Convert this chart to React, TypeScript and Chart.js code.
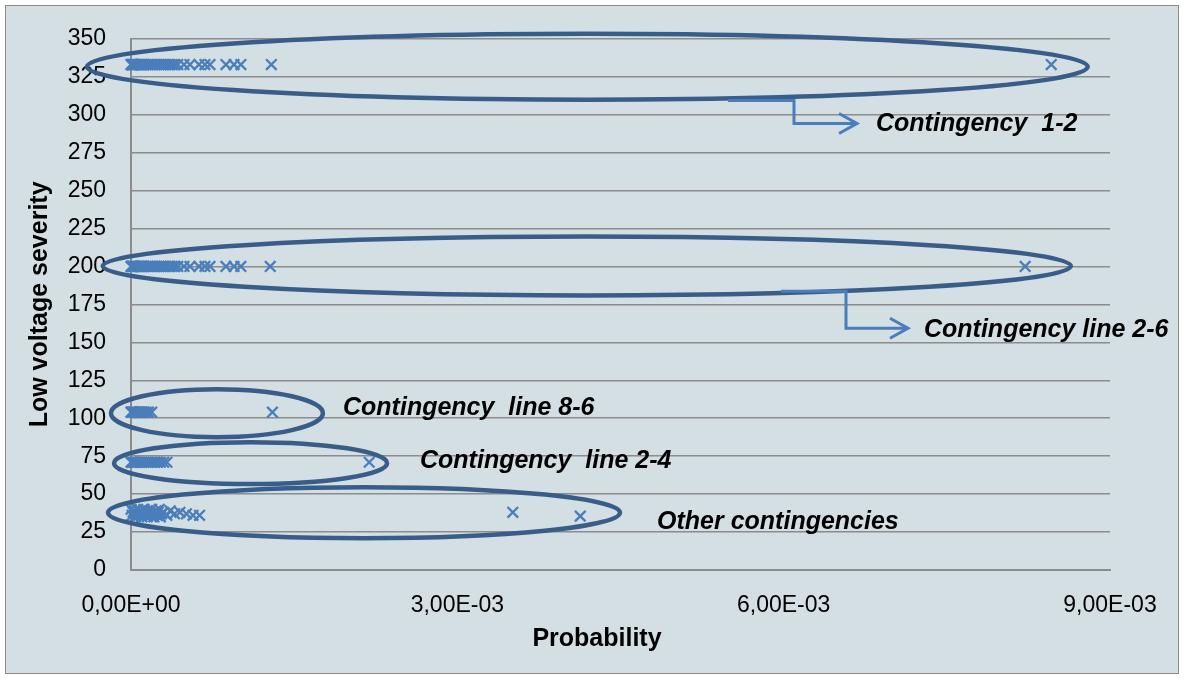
import React, { useEffect, useRef } from "react";
import { Chart, registerables } from "chart.js";

Chart.register(...registerables);

// ---- Data ----
const probLine12 = [
  0, 0.000005, 0.00001, 0.000015, 0.00002, 0.00003, 0.00004, 0.00005, 0.00006, 0.00007,
  0.00008, 0.00009, 0.0001, 0.00011, 0.00012, 0.00014, 0.00016, 0.00018, 0.0002, 0.00022,
  0.00024, 0.00026, 0.00028, 0.0003, 0.00032, 0.00034, 0.00036, 0.00038, 0.0004, 0.00043,
  0.000487, 0.000542, 0.000625, 0.00068, 0.000726, 0.000873, 0.000947, 0.00101, 0.00129, 0.00846,
];
const severityLine12 = 333;

const probLine26 = [
  0, 0.000005, 0.00001, 0.000015, 0.00002, 0.00003, 0.00004, 0.00005, 0.00006, 0.00007,
  0.00008, 0.00009, 0.0001, 0.00011, 0.00012, 0.00014, 0.00016, 0.00018, 0.0002, 0.00022,
  0.00024, 0.00026, 0.00028, 0.0003, 0.00032, 0.00034, 0.00036, 0.00038, 0.0004, 0.00043,
  0.000487, 0.000542, 0.000625, 0.00068, 0.000726, 0.000873, 0.000947, 0.00101, 0.00128, 0.00822,
];
const severityLine26 = 200;

const probLine86 = [
  0, 0.000005, 0.00001, 0.00002, 0.00003, 0.00004, 0.00005, 0.00006, 0.00007, 0.00008,
  0.00009, 0.0001, 0.00012, 0.00014, 0.00016, 0.00019, 0.0013,
];
const severityLine86 = 104;

const probLine24 = [
  0, 0.000005, 0.00001, 0.00002, 0.00003, 0.00004, 0.00005, 0.00006, 0.00008, 0.0001,
  0.00012, 0.00014, 0.00016, 0.00018, 0.0002, 0.00022, 0.00024, 0.00027, 0.0003, 0.00033,
  0.00219,
];
const severityLine24 = 71;

const probOther = [
  0, 0.00001, 0.00002, 0.00003, 0.00004, 0.00005, 0.00006, 0.00007, 0.00008, 0.00009,
  0.0001, 0.00011, 0.00012, 0.00013, 0.00014, 0.00015, 0.00016, 0.00017, 0.00018, 0.00019,
  0.0002, 0.00021, 0.00022, 0.00023, 0.00024, 0.00025, 0.00026, 0.00027, 0.00028, 0.0003,
  0.00033, 0.00036, 0.0004, 0.00045, 0.00051, 0.00057, 0.00063, 0.00351, 0.00413,
];
const severityOther = [
  40, 36, 38, 39, 35, 37, 40, 36, 38, 39,
  35, 37, 40, 36, 38, 35, 39, 37, 36, 40,
  38, 35, 37, 39, 36, 38, 40, 35, 37, 38,
  36, 39, 37, 38, 37, 36, 36, 38, 35.5,
];

const yTickValues = [0, 25, 50, 75, 100, 125, 150, 175, 200, 225, 250, 275, 300, 325, 350];
const xTickValues = [0, 0.003, 0.006, 0.009];

// ---- Annotations (data-space) ----
const ellipses = [
  { cx: 0.004195, cy: 331.6, rx: 0.0046, ry: 21.7 },
  { cx: 0.00419, cy: 200.3, rx: 0.00445, ry: 19.4 },
  { cx: 0.00079, cy: 103.3, rx: 0.000974, ry: 15.8 },
  { cx: 0.001099, cy: 70.4, rx: 0.001255, ry: 13.8 },
  { cx: 0.002142, cy: 37.8, rx: 0.002353, ry: 16.8 },
];
const arrows = [
  { pts: [[0.005488, 309.3], [0.006095, 309.3], [0.006095, 294.2], [0.006674, 294.2]] },
  { pts: [[0.005975, 183.6], [0.006573, 183.6], [0.006573, 159.3], [0.007143, 159.3]] },
];
const labels = [
  { text: "Contingency  1-2", x: 0.006849, y: 293.5 },
  { text: "Contingency line 2-6", x: 0.00729, y: 158.0 },
  { text: "Contingency  line 8-6", x: 0.001949, y: 106.6 },
  { text: "Contingency  line 2-4", x: 0.002657, y: 71.7 },
  { text: "Other contingencies", x: 0.004836, y: 31.6 },
];

const FONT = "'Liberation Sans', Arial, sans-serif";
const MARKER = "#4a7ebb";

function sci(v: number): string {
  if (Math.abs(v) < 1e-12) return "0,00E+00";
  const e = Math.floor(Math.log10(Math.abs(v)) + 1e-9);
  const m = v / Math.pow(10, e);
  return m.toFixed(2).replace(".", ",") + "E" + (e < 0 ? "-" : "+") + String(Math.abs(e)).padStart(2, "0");
}

const zip = (xs: number[], ys: number[] | number) =>
  xs.map((x, i) => ({ x, y: Array.isArray(ys) ? ys[i] : ys }));

const framePlugin = {
  id: "frame",
  beforeDraw(chart: any) {
    const { ctx, width, height } = chart;
    ctx.save();
    ctx.fillStyle = "#ffffff";
    ctx.fillRect(0, 0, width, height);
    ctx.fillStyle = "#d3dfe2";
    ctx.fillRect(5.5, 5.5, width - 11, height - 11);
    ctx.strokeStyle = "#8a8a8a";
    ctx.lineWidth = 1;
    ctx.strokeRect(5.5, 5.5, width - 11, height - 11);
    ctx.restore();
  },
};

const annotPlugin = {
  id: "annot",
  afterDraw(chart: any) {
    const { ctx } = chart;
    const x = chart.scales.x;
    const y = chart.scales.y;
    ctx.save();
    // ellipses
    ctx.strokeStyle = "#385d8a";
    ctx.lineWidth = 4.5;
    ellipses.forEach((e) => {
      const cx = x.getPixelForValue(e.cx);
      const cy = y.getPixelForValue(e.cy);
      const rx = Math.abs(x.getPixelForValue(e.cx + e.rx) - cx);
      const ry = Math.abs(y.getPixelForValue(e.cy + e.ry) - cy);
      ctx.beginPath();
      ctx.ellipse(cx, cy, rx, ry, 0, 0, Math.PI * 2);
      ctx.stroke();
    });
    // arrows
    ctx.strokeStyle = "#4a7ebb";
    ctx.lineWidth = 3;
    ctx.lineJoin = "miter";
    arrows.forEach((a) => {
      const p = a.pts.map(([px, py]) => [x.getPixelForValue(px), y.getPixelForValue(py)]);
      ctx.beginPath();
      p.forEach(([px, py], i) => (i === 0 ? ctx.moveTo(px, py) : ctx.lineTo(px, py)));
      ctx.stroke();
      const [ex, ey] = p[p.length - 1];
      ctx.beginPath();
      ctx.moveTo(ex - 18, ey - 10);
      ctx.lineTo(ex, ey);
      ctx.lineTo(ex - 18, ey + 10);
      ctx.stroke();
    });
    // labels
    ctx.fillStyle = "#000000";
    ctx.font = `italic bold 25px ${FONT}`;
    ctx.textAlign = "left";
    ctx.textBaseline = "middle";
    labels.forEach((l) => {
      ctx.fillText(l.text, x.getPixelForValue(l.x), y.getPixelForValue(l.y));
    });
    // x axis title
    ctx.font = `bold 25px ${FONT}`;
    ctx.textAlign = "center";
    ctx.fillText("Probability", 597, 639);
    ctx.restore();
  },
};

export default function App() {
  const ref = useRef<HTMLCanvasElement | null>(null);

  useEffect(() => {
    if (!ref.current) return;
    const ds = (label: string, data: { x: number; y: number }[]) => ({
      label,
      data,
      showLine: false,
      pointStyle: "crossRot",
      pointRadius: 7.5,
      pointHoverRadius: 7.5,
      pointBorderWidth: 2.3,
      borderColor: MARKER,
      backgroundColor: MARKER,
      clip: false,
    });
    const chart = new Chart(ref.current, {
      type: "scatter",
      data: {
        datasets: [
          ds("Contingency 1-2", zip(probLine12, severityLine12)),
          ds("Contingency line 2-6", zip(probLine26, severityLine26)),
          ds("Contingency line 8-6", zip(probLine86, severityLine86)),
          ds("Contingency line 2-4", zip(probLine24, severityLine24)),
          ds("Other contingencies", zip(probOther, severityOther)),
        ] as any,
      },
      options: {
        animation: false,
        responsive: false,
        layout: { padding: { left: 0, right: 74, top: 38, bottom: 0 } },
        plugins: { legend: { display: false }, tooltip: { enabled: false } },
        scales: {
          x: {
            type: "linear",
            min: 0,
            max: 0.009,
            afterBuildTicks: (s: any) => {
              s.ticks = xTickValues.map((v) => ({ value: v }));
            },
            afterFit: (s: any) => {
              s.height = 109;
            },
            grid: { display: false, drawTicks: false },
            border: { display: true, color: "#8c8c8c", width: 2 },
            ticks: {
              color: "#000",
              font: { family: FONT, size: 23 },
              padding: 22,
              maxRotation: 0,
              callback: (v: any) => sci(Number(v)),
            },
          },
          y: {
            type: "linear",
            min: 0,
            max: 350,
            afterBuildTicks: (s: any) => {
              s.ticks = yTickValues.map((v) => ({ value: v }));
            },
            afterFit: (s: any) => {
              s.width = 131;
            },
            grid: { color: "#8c8c8c", lineWidth: 1.5, drawTicks: false },
            border: { display: true, color: "#8c8c8c", width: 2 },
            ticks: {
              color: "#000",
              font: { family: FONT, size: 23 },
              padding: 25,
            },
            title: {
              display: true,
              text: "Low voltage severity",
              color: "#000",
              font: { family: FONT, size: 25, weight: "bold" },
              padding: { top: 25, bottom: 0 },
            },
          },
        },
      },
      plugins: [framePlugin, annotPlugin],
    } as any);
    return () => chart.destroy();
  }, []);

  return (
    <div style={{ position: "absolute", left: 0, top: 0, width: 1184, height: 679 }}>
      <canvas ref={ref} width={1184} height={679} style={{ display: "block" }} />
    </div>
  );
}
